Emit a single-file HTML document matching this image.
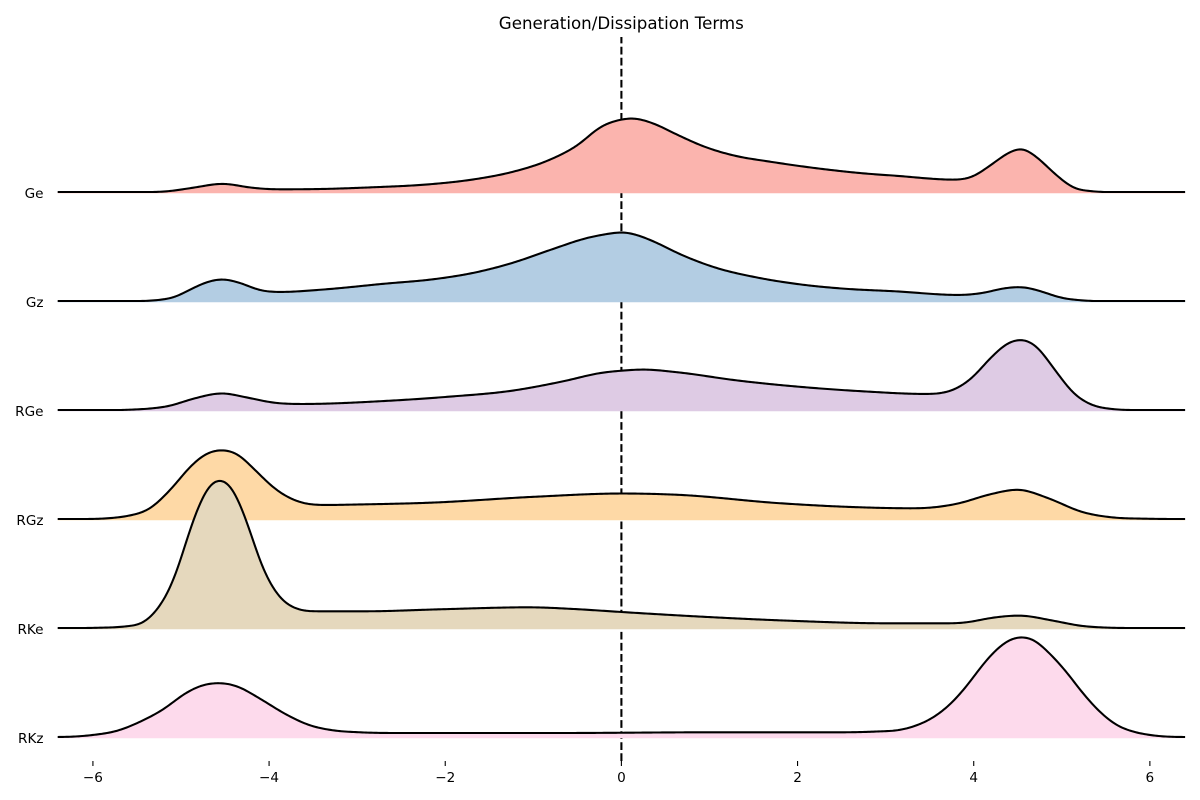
<!DOCTYPE html>
<html lang="en">
<head>
<meta charset="utf-8">
<title>Generation/Dissipation Terms</title>
<style>
html,body{margin:0;padding:0;background:#fff;}
#chart{display:block;width:1200px;height:800px;font-family:"DejaVu Sans","Liberation Sans",sans-serif;}
</style>
</head>
<body>
<svg id="chart" xmlns="http://www.w3.org/2000/svg" width="1200" height="800" viewBox="0 0 1200 800"></svg>
<script>
const seriesNames = ['Ge', 'Gz', 'RGe', 'RGz', 'RKe', 'RKz'];
const tickValues = [-6, -4, -2, 0, 2, 4, 6];
const tickLabels = ['\u22126', '\u22124', '\u22122', '0', '2', '4', '6'];
const referenceValue = 0;

const geX = [-6.4,-5.6,-5.15,-4.86,-4.53,-4.2,-3.92,-3.41,-2.83,-2.18,-1.67,-1.24,-0.8,-0.51,-0.22,0,0.12,0.35,0.64,0.93,1.3,1.66,2.38,2.74,3.11,3.78,3.98,4.19,4.41,4.54,4.7,4.92,5.13,5.35,5.7,6.4];
const geY = [0,0,0.007,0.043,0.083,0.043,0.027,0.03,0.047,0.077,0.127,0.2,0.327,0.46,0.66,0.725,0.738,0.69,0.57,0.457,0.36,0.307,0.22,0.187,0.163,0.123,0.15,0.267,0.4,0.437,0.36,0.183,0.043,0.007,0,0];

const gzX = [-6.4,-5.6,-5.29,-5.08,-4.86,-4.68,-4.53,-4.35,-4.1,-3.88,-3.41,-2.69,-2.11,-1.67,-1.24,-0.8,-0.37,-0.15,0,0.14,0.32,0.72,1.08,1.51,2.02,2.53,3.11,3.83,4.12,4.34,4.54,4.74,4.99,5.28,5.7,6.4];
const gzY = [0,0,0.007,0.037,0.13,0.197,0.218,0.187,0.107,0.09,0.113,0.173,0.22,0.283,0.38,0.513,0.635,0.672,0.688,0.67,0.613,0.447,0.33,0.24,0.167,0.123,0.097,0.06,0.083,0.127,0.14,0.103,0.033,0.003,0,0];

const rgeX = [-6.4,-5.58,-5.37,-5.15,-4.86,-4.53,-4.28,-3.92,-3.63,-2.69,-1.96,-1.24,-0.66,-0.22,0,0.25,0.64,1.3,2.09,2.74,3.47,3.83,3.98,4.19,4.41,4.54,4.7,4.92,5.13,5.35,5.57,5.75,6.4];
const rgeY = [0,0.003,0.013,0.037,0.113,0.168,0.13,0.07,0.06,0.09,0.133,0.193,0.287,0.373,0.393,0.405,0.377,0.297,0.227,0.187,0.16,0.227,0.32,0.52,0.68,0.705,0.647,0.403,0.17,0.047,0.01,0,0];

const rgzX = [-6.4,-6.15,-5.83,-5.59,-5.36,-5.12,-4.88,-4.72,-4.54,-4.36,-4.16,-3.92,-3.68,-3.36,-3,-2.17,-0.97,0,0.62,1.81,2.61,3.33,3.8,4.2,4.5,4.84,5.24,5.56,5.95,6.4];
const rgzY = [0,0,0.007,0.033,0.1,0.293,0.537,0.65,0.69,0.65,0.49,0.293,0.177,0.14,0.145,0.163,0.223,0.255,0.243,0.157,0.12,0.107,0.15,0.25,0.295,0.21,0.067,0.017,0.003,0];

const rkeX = [-6.4,-5.92,-5.62,-5.43,-5.24,-5.13,-5.02,-4.91,-4.795,-4.68,-4.56,-4.44,-4.325,-4.21,-4.1,-3.99,-3.84,-3.69,-3.5,-2.9,-2.06,-1.05,-0.54,0,0.98,1.99,3,3.76,3.95,4.17,4.52,4.88,5.23,5.54,5.9,6.4];
const rkeY = [0,0.003,0.017,0.053,0.22,0.387,0.637,0.953,1.23,1.425,1.485,1.425,1.23,0.953,0.66,0.45,0.27,0.193,0.167,0.167,0.187,0.207,0.19,0.16,0.11,0.07,0.047,0.047,0.06,0.097,0.125,0.077,0.02,0.003,0,0];

const rkzX = [-6.4,-6,-5.73,-5.47,-5.2,-4.94,-4.75,-4.56,-4.37,-4.11,-3.81,-3.54,-3.28,-2.97,-2.6,-0.7,1,2.5,2.9,3.16,3.35,3.53,3.73,3.92,4.1,4.29,4.44,4.56,4.67,4.86,5.05,5.24,5.43,5.62,5.81,6,6.4];
const rkzY = [0,0.02,0.06,0.15,0.277,0.443,0.52,0.54,0.51,0.387,0.227,0.117,0.067,0.047,0.04,0.04,0.047,0.047,0.055,0.07,0.115,0.19,0.325,0.51,0.72,0.9,0.985,1.0,0.977,0.837,0.653,0.437,0.253,0.12,0.053,0.02,0];

const seriesX = [geX, gzX, rgeX, rgzX, rkeX, rkzX];
const seriesY = [geY, gzY, rgeY, rgzY, rkeY, rkzY];
const palette = ['#fbb4ae', '#b3cde3', '#decbe4', '#fed9a6', '#e5d8bd', '#fddaec'];

const svgNS = 'http://www.w3.org/2000/svg';
const chart = document.getElementById('chart');
const xZero = 621.4, xUnit = 88.08;
const firstBase = 192, rowStep = 109, yUnit = 100, fillDrop = 1.3;
const xScale = v => xZero + xUnit * v;
const baseOf = i => firstBase + rowStep * i;
const yScale = (v, i) => baseOf(i) - yUnit * v;

function make(tag, attrs) {
  const el = document.createElementNS(svgNS, tag);
  for (const k in attrs) el.setAttribute(k, attrs[k]);
  return el;
}

/* Density readings are interpolated with a cubic Hermite, then lightly kernel-smoothed. */
function densityCurve(xs, ys) {
  const n = xs.length, sec = [], tan = [];
  for (let i = 0; i < n - 1; i++) sec.push((ys[i + 1] - ys[i]) / (xs[i + 1] - xs[i]));
  tan.push(0);
  for (let i = 1; i < n - 1; i++) {
    const h0 = xs[i] - xs[i - 1], h1 = xs[i + 1] - xs[i];
    if (sec[i - 1] * sec[i] <= 0) tan.push(0);
    else tan.push((h1 * sec[i - 1] + h0 * sec[i]) / (h0 + h1));
  }
  tan.push(0);
  const step = 0.02, gx = [], gy = [];
  let k = 0;
  for (let t = xs[0]; t <= xs[n - 1] + 1e-9; t += step) {
    while (k < n - 2 && t > xs[k + 1]) k++;
    const h = xs[k + 1] - xs[k], u = (t - xs[k]) / h;
    const u2 = u * u, u3 = u2 * u;
    gx.push(t);
    gy.push((2 * u3 - 3 * u2 + 1) * ys[k] + (u3 - 2 * u2 + u) * h * tan[k] + (3 * u2 - 2 * u3) * ys[k + 1] + (u3 - u2) * h * tan[k + 1]);
  }
  const sigma = 0.06, reach = 9, weights = [];
  let total = 0;
  for (let j = -reach; j <= reach; j++) {
    const w = Math.exp(-0.5 * Math.pow(j * step / sigma, 2));
    weights.push(w);
    total += w;
  }
  const sy = gy.map((_, i) => {
    let s = 0;
    for (let j = -reach; j <= reach; j++) {
      const q = Math.min(gy.length - 1, Math.max(0, i + j));
      s += weights[j + reach] * gy[q];
    }
    return Math.max(0, s / total);
  });
  return {gx: gx, sy: sy};
}

const refLine = make('line', {x1: xScale(referenceValue), x2: xScale(referenceValue), y1: 761, y2: 37, stroke: '#000', 'stroke-width': 2.08, 'stroke-dasharray': '7.7 3.34'});


chart.appendChild(refLine);

seriesNames.forEach((name, i) => {
  const group = make('g', {});
  
  
  const curve = densityCurve(seriesX[i], seriesY[i]);
  const pts = curve.gx.map((x, j) => xScale(x).toFixed(2) + ' ' + yScale(curve.sy[j], i).toFixed(2));
  const d = 'M' + pts.join('L');
  const bottom = baseOf(i) + fillDrop;
  const left = xScale(curve.gx[0]).toFixed(2);
  const right = xScale(curve.gx[curve.gx.length - 1]).toFixed(2);
  const area = make('path', {d: d + 'L' + right + ' ' + bottom + 'L' + left + ' ' + bottom + 'Z', fill: palette[i]});
  
  
  group.appendChild(area);
  const line = make('path', {d: d, fill: 'none', stroke: '#000', 'stroke-width': 2.08, 'stroke-linejoin': 'round'});
  
  
  group.appendChild(line);
  chart.appendChild(group);

  const label = make('text', {x: 43.5, y: baseOf(i) + 5.8, 'text-anchor': 'end', 'font-size': 13.6, fill: '#000'});
  label.textContent = name;
  
  
  chart.appendChild(label);
});

tickValues.forEach((v, i) => {
  const tick = make('line', {x1: xScale(v), x2: xScale(v), y1: 761, y2: 766, stroke: '#000', 'stroke-width': 1.1});
  
  
  chart.appendChild(tick);
  const text = make('text', {x: xScale(v), y: 782, 'text-anchor': 'middle', 'font-size': 13.6, fill: '#000'});
  text.textContent = tickLabels[i];
  
  
  chart.appendChild(text);
});

const title = make('text', {x: 621.3, y: 29, 'text-anchor': 'middle', 'font-size': 16.67, fill: '#000'});
title.textContent = 'Generation/Dissipation Terms';


chart.appendChild(title);
</script>
</body>
</html>
